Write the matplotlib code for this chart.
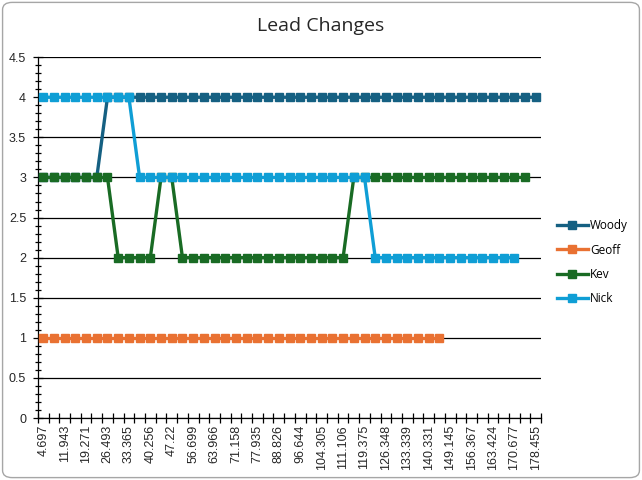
import matplotlib.pyplot as plt
import numpy as np
from matplotlib.patches import FancyBboxPatch

# category labels shown on the axis (every other category is labelled)
shown_labels = ["4.697", "11.943", "19.271", "26.493", "33.365", "40.256", "47.22",
                "56.699", "63.966", "71.158", "77.935", "88.826", "96.644", "104.305",
                "111.106", "119.375", "126.348", "133.339", "140.331", "149.145",
                "156.367", "163.424", "170.677", "178.455"]
n_categories = 47

# positions held by each player
woody = [3, 3, 3, 3, 3, 3,
         4, 4, 4, 4, 4, 4, 4, 4, 4, 4, 4, 4, 4, 4, 4, 4, 4, 4, 4, 4, 4, 4, 4, 4, 4,
         4, 4, 4, 4, 4, 4, 4, 4, 4, 4, 4, 4, 4, 4, 4, 4]
geoff = [1, 1, 1, 1, 1, 1, 1, 1, 1, 1, 1, 1, 1, 1, 1, 1, 1, 1, 1,
         1, 1, 1, 1, 1, 1, 1, 1, 1, 1, 1, 1, 1, 1, 1, 1, 1, 1, 1]
kev = [3, 3, 3, 3, 3, 3, 3,
       2, 2, 2, 2,
       3, 3,
       2, 2, 2, 2, 2, 2, 2, 2, 2, 2, 2, 2, 2, 2, 2, 2,
       3, 3, 3, 3, 3, 3, 3, 3, 3, 3, 3, 3, 3, 3, 3, 3, 3]
nick = [4, 4, 4, 4, 4, 4, 4, 4, 4,
        3, 3, 3, 3, 3, 3, 3, 3, 3, 3, 3, 3, 3, 3, 3, 3, 3, 3, 3, 3, 3, 3,
        2, 2, 2, 2, 2, 2, 2, 2, 2, 2, 2, 2, 2, 2]

series = [("Woody", woody, "#156082"),
          ("Geoff", geoff, "#E97132"),
          ("Kev", kev, "#196B24"),
          ("Nick", nick, "#0F9ED5")]

fig = plt.figure(figsize=(6.42, 4.8), dpi=100)
ax = fig.add_axes([0.059, 0.129, 0.784, 0.752])

# rounded chart border
fig.patches.append(FancyBboxPatch((0.004, 0.005), 0.992, 0.99,
                                  boxstyle="round,pad=0,rounding_size=0.015",
                                  transform=fig.transFigure, fill=False,
                                  edgecolor="#a6a6a6", linewidth=1.0))

for name, vals, color in series:
    ax.plot(range(len(vals)), vals, color=color, linewidth=2.4, marker="s",
            markersize=5.5, label=name, zorder=3)

ax.set_xlim(-0.5, n_categories - 0.5)
ax.set_ylim(0, 4.5)

# y axis
ax.set_yticks(np.arange(0, 4.51, 0.5))
ax.set_yticklabels(["0", "0.5", "1", "1.5", "2", "2.5", "3", "3.5", "4", "4.5"])
ax.set_yticks(np.arange(0, 4.51, 0.1), minor=True)
ax.yaxis.grid(True, color="black", linewidth=0.9)
ax.tick_params(axis="y", which="major", direction="inout", length=7, width=0.9, pad=5)
ax.tick_params(axis="y", which="minor", direction="inout", length=5, width=0.9)

# x axis: labels on every other category, ticks between categories
ax.set_xticks(range(0, n_categories, 2))
ax.set_xticklabels(shown_labels, rotation=90)
ax.set_xticks(np.arange(-0.5, n_categories, 1), minor=True)
ax.tick_params(axis="x", which="major", length=0, pad=5)
ax.tick_params(axis="x", which="minor", direction="inout", length=7, width=0.9)

for lab in ax.get_xticklabels() + ax.get_yticklabels():
    lab.set_fontfamily("Liberation Sans")
    lab.set_fontsize(9)
    lab.set_color("#262626")

for side in ["top", "right"]:
    ax.spines[side].set_visible(False)
for side in ["left", "bottom"]:
    ax.spines[side].set_linewidth(0.9)
ax.set_axisbelow(True)

fig.suptitle("Lead Changes", x=0.5, y=0.965, fontsize=14, fontfamily="Open Sans",
             color="#262626")

ax.legend(loc="center left", bbox_to_anchor=(1.01, 0.432), frameon=False,
          prop={"family": "Open Sans", "size": 8.5}, handlelength=2.6,
          labelspacing=0.95, handletextpad=0.2)

plt.savefig("out.png", dpi=100)
